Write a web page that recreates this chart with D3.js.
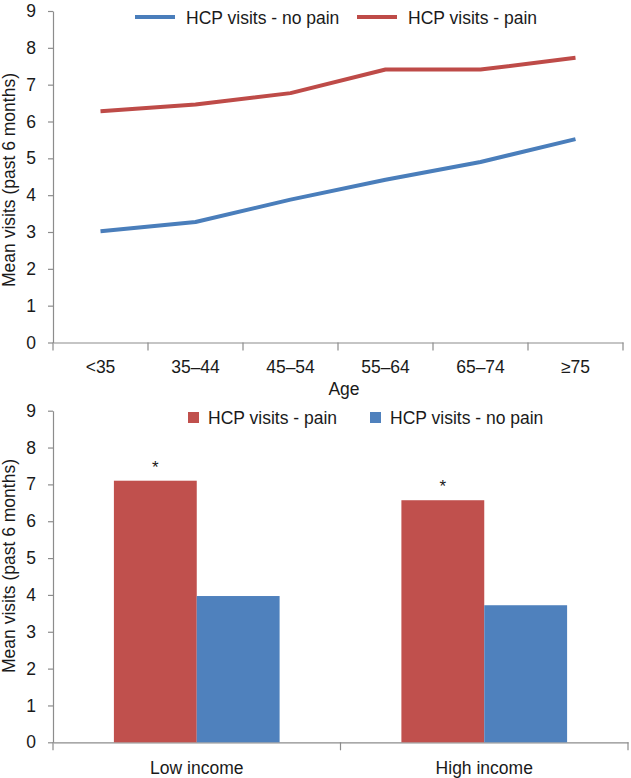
<!DOCTYPE html>
<html>
<head>
<meta charset="utf-8">
<script src="https://cdn.jsdelivr.net/npm/d3@7"></script>
<style>
  html, body { margin: 0; padding: 0; background: #fff; }
  svg { display: block; }
  text { font-family: "Liberation Sans", Arial, sans-serif; fill: #1a1a1a; }
</style>
</head>
<body>
<svg id="chart" width="631" height="778"></svg>
<script>
// ---- Data ----
const ageGroups = ["<35", "35–44", "45–54", "55–64", "65–74", "≥75"];
const noPainByAge = [3.02, 3.27, 3.88, 4.42, 4.9, 5.52];
const painByAge = [6.28, 6.46, 6.77, 7.41, 7.41, 7.73];

const incomeGroups = ["Low income", "High income"];
const painByIncome = [7.1, 6.57];
const noPainByIncome = [3.97, 3.72];
const significant = [true, true];

const yTicks = [0, 1, 2, 3, 4, 5, 6, 7, 8, 9];
const yTitle = "Mean visits (past 6 months)";
const xTitleTop = "Age";
const seriesNoPain = "HCP visits - no pain";
const seriesPain = "HCP visits - pain";

// ---- Styles ----
const FS = 17.5;
const axisColor = "#8c8c8c";
const lineBlue = "#4a7ebb", lineRed = "#be4b48";
const barRed = "#c0504d", barBlue = "#4f81bd";

const svg = d3.select("#chart");

function styleAxis(g) {
  g.selectAll(".domain").attr("stroke", axisColor).attr("stroke-width", 1.2);
  g.selectAll(".tick line").attr("stroke", axisColor).attr("stroke-width", 1.2);
  g.selectAll(".tick text").style("font-size", FS + "px").attr("fill", "#1a1a1a");
}

// ================= TOP: line chart =================
{
  const x0 = 53, x1 = 623, yBottom = 342.5, yTop = 11;
  const x = d3.scaleBand().domain(ageGroups).range([x0, x1]);
  const y = d3.scaleLinear().domain([0, 9]).range([yBottom, yTop]);

  const gy = svg.append("g").attr("transform", `translate(${x0},0)`)
    .call(d3.axisLeft(y).tickValues(yTicks).tickSize(5).tickPadding(12).tickSizeOuter(0).tickFormat(d3.format("d")));
  styleAxis(gy);

  const gx = svg.append("g").attr("transform", `translate(0,${yBottom})`)
    .call(d3.axisBottom(x).tickSize(0).tickPadding(20).tickSizeOuter(0));
  styleAxis(gx);
  gx.selectAll(".tick text").attr("dy", "0.71em").attr("y", 18);
  const bounds = ageGroups.map(d => x(d)).concat([x1]);
  gx.selectAll(".bnd").data(bounds).enter().append("line")
    .attr("x1", d => d).attr("x2", d => d).attr("y1", 0).attr("y2", 8)
    .attr("stroke", axisColor).attr("stroke-width", 1.2);

  const cx = d => x(d) + x.bandwidth() / 2;
  const line = d3.line().x((d, i) => cx(ageGroups[i])).y(d => y(d));

  svg.append("path").datum(noPainByAge).attr("d", line)
    .attr("fill", "none").attr("stroke", lineBlue).attr("stroke-width", 4)
    .attr("stroke-linejoin", "round");
  svg.append("path").datum(painByAge).attr("d", line)
    .attr("fill", "none").attr("stroke", lineRed).attr("stroke-width", 4)
    .attr("stroke-linejoin", "round");

  svg.append("text").attr("x", (x0 + x1) / 2 + 6).attr("y", 395)
    .attr("text-anchor", "middle").style("font-size", FS + "px").text(xTitleTop);

  svg.append("text").attr("transform", "translate(15,180) rotate(-90)")
    .attr("text-anchor", "middle").style("font-size", FS + "px").text(yTitle);

  // legend
  const leg = [
    { label: seriesNoPain, color: lineBlue, x: 135 },
    { label: seriesPain, color: lineRed, x: 357 }
  ];
  const lg = svg.append("g");
  leg.forEach(l => {
    lg.append("line").attr("x1", l.x).attr("x2", l.x + 40).attr("y1", 17).attr("y2", 17)
      .attr("stroke", l.color).attr("stroke-width", 4);
    lg.append("text").attr("x", l.x + 51).attr("y", 23.5)
      .style("font-size", FS + "px").text(l.label);
  });
}

// ================= BOTTOM: bar chart =================
{
  const x0 = 53, x1 = 628, yBottom = 742.3, yTop = 410.7;
  const x = d3.scaleBand().domain(incomeGroups).range([x0, x1]);
  const y = d3.scaleLinear().domain([0, 9]).range([yBottom, yTop]);

  const gy = svg.append("g").attr("transform", `translate(${x0},0)`)
    .call(d3.axisLeft(y).tickValues(yTicks).tickSize(5).tickPadding(12).tickSizeOuter(0).tickFormat(d3.format("d")));
  styleAxis(gy);

  const gx = svg.append("g").attr("transform", `translate(0,${yBottom})`)
    .call(d3.axisBottom(x).tickSize(0).tickPadding(20).tickSizeOuter(0));
  styleAxis(gx);
  gx.selectAll(".tick text").attr("dy", "0.71em").attr("y", 19);
  const bounds = incomeGroups.map(d => x(d)).concat([x1]);
  gx.selectAll(".bnd").data(bounds).enter().append("line")
    .attr("x1", d => d).attr("x2", d => d).attr("y1", 0).attr("y2", 8)
    .attr("stroke", axisColor).attr("stroke-width", 1.2);

  const inner = d3.scaleBand().domain(["pain", "nopain"])
    .range([0, x.bandwidth()]).paddingOuter(0.735).paddingInner(0);

  const rows = incomeGroups.map((g, i) => ({ g, pain: painByIncome[i], nopain: noPainByIncome[i], sig: significant[i] }));

  const grp = svg.selectAll(".grp").data(rows).enter().append("g")
    .attr("transform", d => `translate(${x(d.g)},0)`);
  grp.append("rect").attr("x", inner("pain")).attr("width", inner.bandwidth())
    .attr("y", d => y(d.pain)).attr("height", d => yBottom - y(d.pain)).attr("fill", barRed);
  grp.append("rect").attr("x", inner("nopain")).attr("width", inner.bandwidth())
    .attr("y", d => y(d.nopain)).attr("height", d => yBottom - y(d.nopain)).attr("fill", barBlue);
  grp.filter(d => d.sig).append("text")
    .attr("x", inner("pain") + inner.bandwidth() / 2)
    .attr("y", d => y(d.pain) - 8)
    .attr("text-anchor", "middle").style("font-size", "17px").attr("fill", "#333").text("*");

  svg.append("text").attr("transform", "translate(15,566) rotate(-90)")
    .attr("text-anchor", "middle").style("font-size", FS + "px").text(yTitle);

  // legend
  const leg = [
    { label: seriesPain, color: barRed, x: 188 },
    { label: seriesNoPain, color: barBlue, x: 370 }
  ];
  leg.forEach(l => {
    svg.append("rect").attr("x", l.x).attr("y", 412).attr("width", 11).attr("height", 11).attr("fill", l.color);
    svg.append("text").attr("x", l.x + 20).attr("y", 423.5)
      .style("font-size", FS + "px").text(l.label);
  });
}
</script>
</body>
</html>
